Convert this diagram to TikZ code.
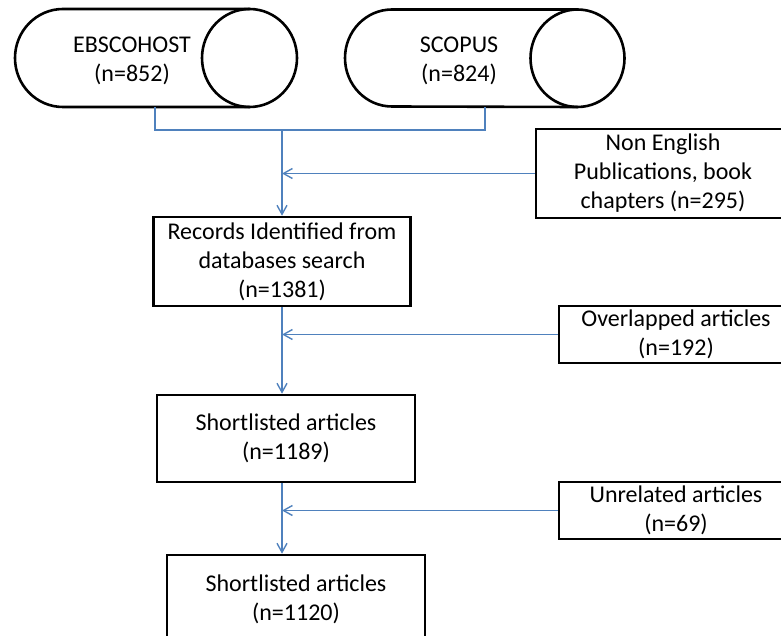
\documentclass[tikz,border=0pt]{standalone}
\usepackage{fontspec}
\setmainfont{Carlito}
\usepackage{tikz}
\usetikzlibrary{arrows.meta,positioning}
\definecolor{flowblue}{RGB}{79,129,189}
\tikzset{
    stepbox/.style={draw, line width=1.3pt, align=center, inner sep=0pt,
        font=\fontsize{12}{14.5}\selectfont},
    dbtext/.style={align=center, inner sep=0pt, font=\fontsize{12}{14.5}\selectfont},
    dbline/.style={draw, line width=1.3pt},
    flowline/.style={draw=flowblue, line width=0.7pt},
    flowarrow/.style={flowline, -{Straight Barb[length=4.5pt,width=5pt]}}
}

\begin{document}
\begin{tikzpicture}[x=0.5pt, y=-0.5pt]
            \useasboundingbox (0,0) rectangle (781,636);
            \clip (0,0) rectangle (781,636);

            % sources
            \draw[dbline] (249.5,9) -- (63,9) arc[start angle=270, end angle=90, x radius=48, y radius=49] -- (249.5,107);
            \draw[dbline] (249.5,58) circle[x radius=47.5, y radius=49];
            \draw[dbline] (577.5,9.5) -- (392,9.5) arc[start angle=270, end angle=90, x radius=47, y radius=48.5] -- (577.5,107);
            \draw[dbline] (577.5,58.25) circle[x radius=47, y radius=48.75];

            \node[dbtext] (ebsco) at (132,61) {EBSCOHOST\\(n=852)};
            \node[dbtext] (scopus) at (459,61) {SCOPUS\\(n=824)};
            \coordinate (ebscobot) at (155,107);
            \coordinate (scopusbot) at (485,107);

            % main column
            \node[stepbox, minimum width=128.5pt, minimum height=44.5pt] (rec) at (282,261.5) {Records Identified from\\databases search\\(n=1381)};
            \node[stepbox, minimum width=129pt, minimum height=43.5pt] (short1) at (286,438.5) {Shortlisted articles\\(n=1189)};
            \node[stepbox, minimum width=129pt, minimum height=44pt] (short2) at (296,599) {Shortlisted articles\\(n=1120)};

            % excluded records
            \node[stepbox, minimum width=127pt, minimum height=44.5pt] (nonen) at (663,173.5) {Non English\\Publications, book\\chapters (n=295)};
            \node[stepbox, minimum width=117pt, minimum height=28.5pt] (overlap) at (676,334.5) {Overlapped articles\\(n=192)};
            \node[stepbox, minimum width=117pt, minimum height=28.5pt] (unrel) at (676,510.5) {Unrelated articles\\(n=69)};

            \coordinate (join) at (282,130);

            \draw[flowline] (ebscobot) |- (join) -| (scopusbot);
            \draw[flowarrow] (join) -- (rec.north);
            \draw[flowarrow] (nonen.west) -- (nonen.west -| rec.north);

            \draw[flowarrow] (rec.south) -- (rec.south |- short1.north);
            \draw[flowarrow] (overlap.west) -- (overlap.west -| rec.south);

            \draw[flowarrow] (rec.south |- short1.south) -- (rec.south |- short2.north);
            \draw[flowarrow] (unrel.west) -- (unrel.west -| rec.south);
        \end{tikzpicture}
\end{document}
